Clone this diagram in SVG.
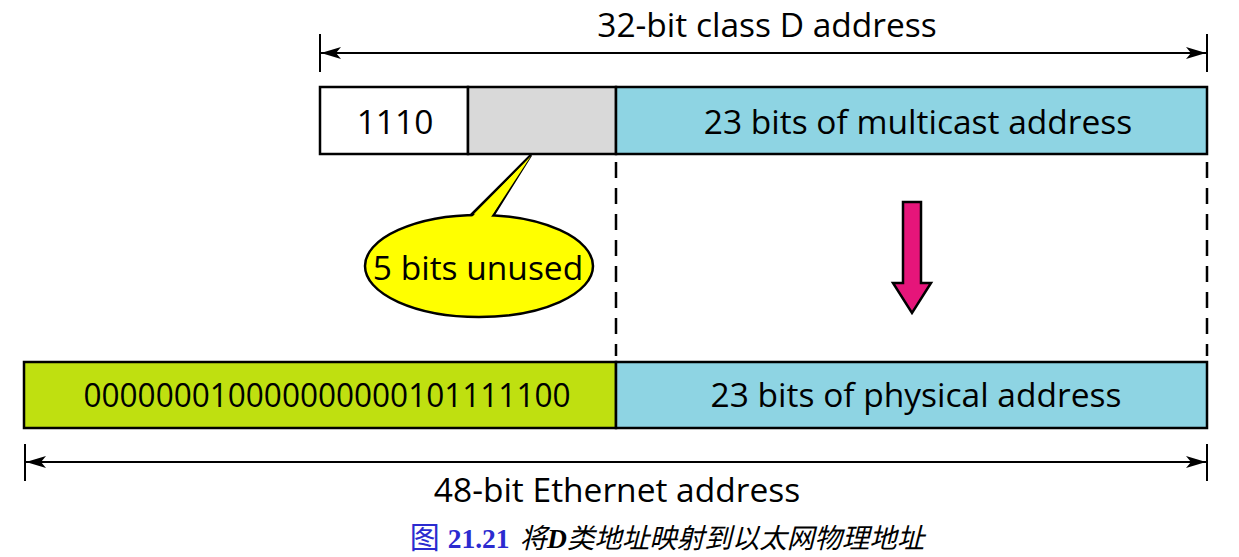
<svg xmlns="http://www.w3.org/2000/svg" width="1239" height="557" viewBox="0 0 1239 557">
<style>
.t{font-family:"Open Sans","Noto Sans","Liberation Sans",sans-serif;font-size:33.5px;fill:#000;text-anchor:middle}
.box{stroke:#000;stroke-width:2.5}
.dim{stroke:#000;stroke-width:2;fill:none}
.dash{stroke:#000;stroke-width:2.5;stroke-dasharray:16,10;fill:none}
</style>
<defs>
<marker id="ah" viewBox="0 0 20 12" refX="20" refY="6" markerWidth="20" markerHeight="12" markerUnits="userSpaceOnUse" orient="auto-start-reverse">
<path d="M0,0 L20,6 L0,12 L5,6 Z" fill="#000"/>
</marker>
</defs>
<g id="top-dimension">
<line class="dim" x1="320" y1="34" x2="320" y2="72"/>
<line class="dim" x1="1207" y1="34" x2="1207" y2="72"/>
<text class="t" x="767" y="37">32-bit class D address</text>
</g>
<g id="bottom-dimension">
<line class="dim" x1="25" y1="444" x2="25" y2="481"/>
<line class="dim" x1="1207" y1="444" x2="1207" y2="481"/>
<text class="t" x="617" y="502">48-bit Ethernet address</text>
</g>
<g id="class-d-address">
<rect id="prefix" class="box" x="320" y="87" width="148" height="67" fill="#fff"/>
<text class="t" x="395" y="134">1110</text>
<rect id="unused" class="box" x="468" y="87" width="148" height="67" fill="#d9d9d9"/>
<rect id="multicast" class="box" x="616" y="87" width="591" height="67" fill="#8ed4e3"/>
<text class="t" x="918" y="134">23 bits of multicast address</text>
</g>
<g id="ethernet-address">
<rect id="fixed" class="box" x="24" y="362" width="592" height="66" fill="#bfe010"/>
<text class="t" x="327" y="407" textLength="487" lengthAdjust="spacingAndGlyphs">000000010000000000101111100</text>
<rect id="physical" class="box" x="616" y="362" width="591" height="66" fill="#8ed4e3"/>
<text class="t" x="916" y="407">23 bits of physical address</text>
</g>
<g id="callout">
<path d="M470,216 L531,155 L493,216" fill="#ffff00" stroke="#000" stroke-width="2.5" stroke-linejoin="miter"/>
<ellipse cx="479" cy="266" rx="114" ry="51" fill="#ffff00" stroke="#000" stroke-width="2.5"/>
<path d="M472,217 L531,156 L491,217 Z" fill="#ffff00"/>
<text class="t" x="478" y="280" font-size="35">5 bits unused</text>
</g>
<g id="map-arrow">
<path d="M903,202 L921,202 L921,283 L931,283 L912,313 L893,283 L903,283 Z" fill="#e6157a" stroke="#000" stroke-width="2.5" stroke-linejoin="miter"/>
</g>
<g id="connectors">
<line class="dim" x1="321" y1="53" x2="1206" y2="53" marker-start="url(#ah)" marker-end="url(#ah)"/>
<line class="dim" x1="26" y1="462" x2="1206" y2="462" marker-start="url(#ah)" marker-end="url(#ah)"/>
<line class="dash" x1="616" y1="162" x2="616" y2="356"/>
<line class="dash" x1="1207" y1="162" x2="1207" y2="356"/>
</g>
<g id="caption">
<text x="667" y="548" text-anchor="middle" font-size="27.5" font-family="'Liberation Serif','Noto Sans CJK SC',serif"><tspan fill="#2b2bd0" font-family="'Noto Sans CJK SC',serif" font-size="30">图</tspan><tspan fill="#2b2bd0" font-weight="bold" dx="8">21.21</tspan><tspan fill="#000" font-style="italic" dx="10">将<tspan font-weight="bold">D</tspan>类地址映射到以太网物理地址</tspan></text>
</g>
</svg>
